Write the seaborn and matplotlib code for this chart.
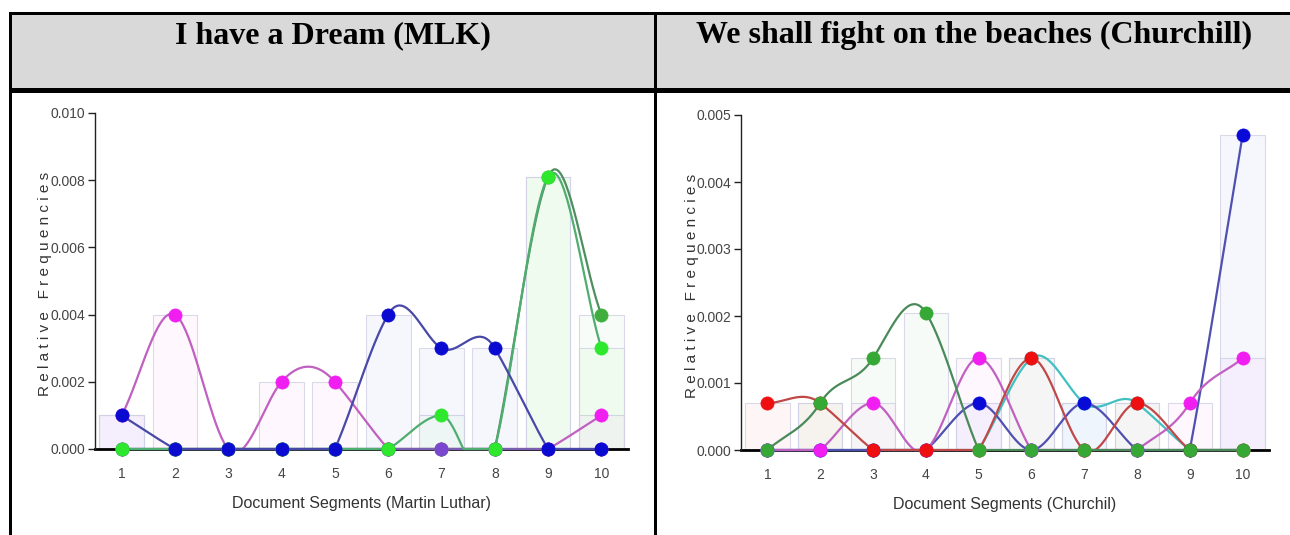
import numpy as np
import pandas as pd
import matplotlib.pyplot as plt
import seaborn as sns
from matplotlib.patches import Rectangle
from matplotlib.colors import to_rgba

# ---- data (relative word frequencies per document segment) ----
segments = list(range(1, 11))

mlk_magenta = [0.001, 0.004, 0.0, 0.002, 0.002, 0.0, 0.0, 0.0, 0.0, 0.001]
mlk_green = [0.0, 0.0, 0.0, 0.0, 0.0, 0.0, 0.0, 0.0, 0.0081, 0.004]
mlk_purple = [0.0, 0.0, 0.0, 0.0, 0.0, 0.0, 0.0, 0.0, 0.0, 0.0]
mlk_lime = [0.0, 0.0, 0.0, 0.0, 0.0, 0.0, 0.001, 0.0, 0.0081, 0.003]
mlk_blue = [0.001, 0.0, 0.0, 0.0, 0.0, 0.004, 0.003, 0.003, 0.0, 0.0]

ch_cyan = [0.0, 0.0, 0.0, 0.0, 0.0, 0.00137, 0.0007, 0.0007, 0.0, 0.0]
ch_blue = [0.0, 0.0, 0.0, 0.0, 0.0007, 0.0, 0.0007, 0.0, 0.0, 0.0047]
ch_magenta = [0.0, 0.0, 0.0007, 0.0, 0.00137, 0.0, 0.0, 0.0, 0.0007, 0.00137]
ch_red = [0.0007, 0.0007, 0.0, 0.0, 0.0, 0.00137, 0.0, 0.0007, 0.0, 0.0]
ch_green = [0.0, 0.0007, 0.00137, 0.00205, 0.0, 0.0, 0.0, 0.0, 0.0, 0.0]

mlk_ticks = [0.0, 0.002, 0.004, 0.006, 0.008, 0.010]
ch_ticks = [0.0, 0.001, 0.002, 0.003, 0.004, 0.005]

# (values, dot colour, line colour), drawn bottom to top
mlk_series = [
    (mlk_magenta, '#f01ef0', '#c060c0'),
    (mlk_green, '#3fae3f', '#4f8f5f'),
    (mlk_purple, '#7a48d0', '#7a60b0'),
    (mlk_lime, '#2ee82e', '#4fae6f'),
    (mlk_blue, '#0a0ad0', '#4848a8'),
]
ch_series = [
    (ch_cyan, '#1ee8e8', '#40c0c0'),
    (ch_blue, '#0a0ad8', '#5050b0'),
    (ch_magenta, '#f01ef0', '#c060c0'),
    (ch_red, '#ee1010', '#c04848'),
    (ch_green, '#36a836', '#4a8a5a'),
]


def smooth_curve(xs, ys, k=1.8, n=40):
    # cardinal-spline through the data points, clipped at zero
    x = np.asarray(xs, float)
    y = np.asarray(ys, float)
    m = np.zeros_like(y)
    m[1:-1] = (y[2:] - y[:-2]) / 2 * k
    m[0] = y[1] - y[0]
    m[-1] = y[-1] - y[-2]
    out_x, out_y = [], []
    for i in range(len(x) - 1):
        t = np.linspace(0, 1, n, endpoint=(i == len(x) - 2))
        h00 = 2 * t**3 - 3 * t**2 + 1
        h10 = t**3 - 2 * t**2 + t
        h01 = -2 * t**3 + 3 * t**2
        h11 = t**3 - t**2
        dx = x[i + 1] - x[i]
        out_x.append(x[i] + t * dx)
        out_y.append(h00 * y[i] + h10 * m[i] * dx + h01 * y[i + 1] + h11 * m[i + 1] * dx)
    return np.concatenate(out_x), np.clip(np.concatenate(out_y), 0, None)


def draw_chart(ax, series, ticks, xlabel):
    for vals, dot_c, line_c in series:
        ax.bar(segments, vals, width=0.84, color=to_rgba(dot_c, 0.035),
               edgecolor=(0.82, 0.82, 0.9, 0.8), linewidth=0.8, zorder=1)
    for i, (vals, dot_c, line_c) in enumerate(series):
        sx, sy = smooth_curve(segments, vals)
        df = pd.DataFrame({'x': sx, 'y': sy})
        sns.lineplot(data=df, x='x', y='y', ax=ax, color=line_c, linewidth=1.6,
                     sort=False, estimator=None, clip_on=False, zorder=3 + i)
    for i, (vals, dot_c, line_c) in enumerate(series):
        sns.scatterplot(x=segments, y=vals, ax=ax, color=dot_c, s=90,
                        edgecolor=dot_c, linewidth=0.5, clip_on=False,
                        zorder=10 + i, legend=False)

    ax.set_xlim(0.5, 10.5)
    ax.set_ylim(0, ticks[-1])
    ax.set_xticks(segments)
    ax.set_xticklabels([str(s) for s in segments])
    ax.set_yticks(ticks)
    ax.set_yticklabels([f'{t:.3f}' for t in ticks])
    for side in ['top', 'right']:
        ax.spines[side].set_visible(False)
    ax.spines['left'].set_color('#222222')
    ax.spines['left'].set_linewidth(1.0)
    ax.spines['bottom'].set_color('black')
    ax.spines['bottom'].set_linewidth(2.0)
    ax.spines['bottom'].set_zorder(2)
    ax.tick_params(axis='y', direction='out', length=5, width=1, color='#222222',
                   labelsize=10, labelcolor='#444444', pad=2, left=True)
    ax.tick_params(axis='x', direction='out', length=5, width=1, color='#222222',
                   labelsize=10, labelcolor='#444444', pad=8, bottom=True)
    ax.set_xlabel(xlabel, fontsize=11.5, color='#333333')
    ax.set_ylabel('R e l a t i v e   F r e q u e n c i e s', fontsize=11, color='#333333')
    ax.xaxis.set_label_coords(0.5, -0.14)
    ax.yaxis.set_label_coords(-0.08, 0.49)


sns.set_theme(style='white')
plt.rcParams['font.family'] = ['Liberation Sans', 'DejaVu Sans']

W, H = 1290, 535
fig = plt.figure(figsize=(W / 100, H / 100), dpi=100)
fig.patch.set_facecolor('white')


def frac_rect(x0, y0, x1, y1, color):
    # rectangle given in pixel coordinates (origin top-left)
    fig.add_artist(Rectangle((x0 / W, 1 - y1 / H), (x1 - x0) / W, (y1 - y0) / H,
                             transform=fig.transFigure, facecolor=color,
                             edgecolor='none', zorder=0))


# table: grey header row and black rules
frac_rect(10, 12, W, 90, '#d9d9d9')
frac_rect(9, 12, W, 14.5, 'black')
frac_rect(9, 88, W, 93, 'black')
frac_rect(9, 12, 12, H, 'black')
frac_rect(653.5, 12, 656.5, H, 'black')

serif = ['Liberation Serif', 'DejaVu Serif']
fig.text(333 / W, 1 - 43 / H, 'I have a Dream (MLK)', ha='center', va='baseline',
         fontsize=23, fontweight='bold', family=serif, color='black')
fig.text(974 / W, 1 - 43 / H, 'We shall fight on the beaches (Churchill)', ha='center',
         va='baseline', fontsize=23, fontweight='bold', family=serif, color='black')

ax1 = fig.add_axes([95 / W, 1 - 449 / H, (628 - 95) / W, (449 - 113) / H])
ax2 = fig.add_axes([741 / W, 1 - 450 / H, (1269 - 741) / W, (450 - 115) / H])
for a in (ax1, ax2):
    a.set_facecolor('none')

draw_chart(ax1, mlk_series, mlk_ticks, 'Document Segments (Martin Luthar)')
draw_chart(ax2, ch_series, ch_ticks, 'Document Segments (Churchil)')

fig.savefig('out.png', dpi=100)
